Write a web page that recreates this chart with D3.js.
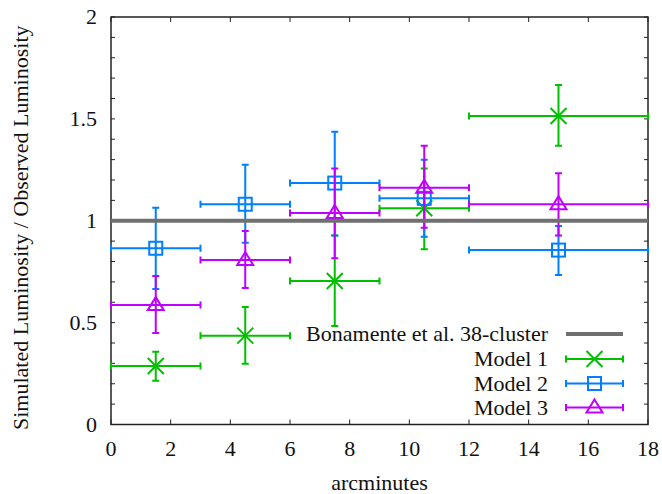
<!DOCTYPE html>
<html>
<head>
<meta charset="utf-8">
<script src="https://cdn.jsdelivr.net/npm/d3@7"></script>
</head>
<body style="margin:0">
<script>
// bins in arcminutes
const xCenter = [1.5, 4.5, 7.5, 10.5, 15];
const xLow = [0, 3, 6, 9, 12];
const xHigh = [3, 6, 9, 12, 18];

const model1 = [0.287, 0.436, 0.704, 1.061, 1.514];
const model1Low = [0.215, 0.298, 0.483, 0.860, 1.368];
const model1High = [0.357, 0.577, 0.927, 1.257, 1.666];

const model2 = [0.865, 1.081, 1.185, 1.110, 0.856];
const model2Low = [0.665, 0.892, 0.927, 0.922, 0.734];
const model2High = [1.064, 1.275, 1.437, 1.300, 0.974];

const model3 = [0.586, 0.807, 1.038, 1.162, 1.081];
const model3Low = [0.449, 0.670, 0.816, 0.966, 0.927];
const model3High = [0.729, 0.950, 1.257, 1.368, 1.233];

const bonamente = 1.0;

const xTicks = [0, 2, 4, 6, 8, 10, 12, 14, 16, 18];
const yTicks = [0, 0.5, 1, 1.5, 2];

const width = 662, height = 494;
const margin = { top: 17, right: 14, bottom: 69.5, left: 111 };

const svg = d3.select('body').append('svg')
  .attr('width', width)
  .attr('height', height);

const x = d3.scaleLinear().domain([0, 18]).range([margin.left, width - margin.right]);
const y = d3.scaleLinear().domain([0, 2]).range([height - margin.bottom, margin.top]);

// every text gets the serif face when it is made
function serif(sel) {
  return sel.attr('font-size', 22).style('font-family', '"Liberation Serif", monospace').style('fill', '#111');
}

const series = [
  { name: 'Model 1', color: '#00c000', marker: 'x', v: model1, lo: model1Low, hi: model1High },
  { name: 'Model 2', color: '#0080ff', marker: 'square', v: model2, lo: model2Low, hi: model2High },
  { name: 'Model 3', color: '#c000ff', marker: 'triangle', v: model3, lo: model3Low, hi: model3High }
];

// ticks on all four sides, labels only bottom/left
const minorY = d3.range(0, 2.0001, 0.1);
const tickG = svg.append('g').attr('stroke', '#222');
tickG.selectAll('.xb').data(xTicks).join('line').attr('class', 'xb')
  .attr('x1', d => x(d)).attr('x2', d => x(d)).attr('y1', y(0)).attr('y2', y(0) - 5);
tickG.selectAll('.xt').data(xTicks).join('line').attr('class', 'xt')
  .attr('x1', d => x(d)).attr('x2', d => x(d)).attr('y1', y(2)).attr('y2', y(2) + 5);
tickG.selectAll('.yl').data(minorY).join('line').attr('class', 'yl')
  .attr('x1', x(0)).attr('x2', x(0) + 4).attr('y1', d => y(d)).attr('y2', d => y(d));
tickG.selectAll('.yr').data(minorY).join('line').attr('class', 'yr')
  .attr('x1', x(18)).attr('x2', x(18) - 4).attr('y1', d => y(d)).attr('y2', d => y(d));

svg.selectAll('.xlab').data(xTicks).join('text').attr('class', 'xlab')
  .attr('x', d => x(d)).attr('y', 456)
  .attr('text-anchor', 'middle')
  .text(d => d)
  .call(serif);
svg.selectAll('.ylab').data(yTicks).join('text').attr('class', 'ylab')
  .attr('x', 97).attr('y', d => y(d) + 7)
  .attr('text-anchor', 'end')
  .text(d => d)
  .call(serif);

svg.append('rect')
  .attr('x', x(0)).attr('y', y(2))
  .attr('width', x(18) - x(0)).attr('height', y(0) - y(2))
  .attr('fill', 'none').attr('stroke', '#222').attr('stroke-width', 1.5);

function drawMarker(g, type, cx, cy, color) {
  if (type === 'x') {
    const s = 8;
    g.append('path')
      .attr('d', `M${cx - s},${cy - s}L${cx + s},${cy + s}M${cx - s},${cy + s}L${cx + s},${cy - s}`)
      .attr('stroke', color).attr('stroke-width', 2).attr('fill', 'none');
  } else if (type === 'square') {
    const s = 6.5;
    g.append('rect')
      .attr('x', cx - s).attr('y', cy - s).attr('width', 2 * s).attr('height', 2 * s)
      .attr('stroke', color).attr('stroke-width', 2).attr('fill', 'none');
  } else {
    const s = 8;
    g.append('path')
      .attr('d', `M${cx},${cy - s}L${cx + s},${cy + 5}L${cx - s},${cy + 5}Z`)
      .attr('stroke', color).attr('stroke-width', 2).attr('fill', 'none');
  }
}

const cap = 3.5;
series.forEach(s => {
  const g = svg.append('g').attr('stroke', s.color).attr('stroke-width', 2).attr('fill', 'none');
  xCenter.forEach((xc, i) => {
    const cx = x(xc), cy = y(s.v[i]);
    const x0 = x(xLow[i]), x1 = x(xHigh[i]);
    const y0 = y(s.lo[i]), y1 = y(s.hi[i]);
    g.append('path').attr('d',
      `M${x0},${cy}H${x1}` +
      `M${x0},${cy - cap}V${cy + cap}M${x1},${cy - cap}V${cy + cap}` +
      `M${cx},${y0}V${y1}` +
      `M${cx - cap},${y0}H${cx + cap}M${cx - cap},${y1}H${cx + cap}`);
    drawMarker(g, s.marker, cx, cy, s.color);
  });
});

// reference line
svg.append('line')
  .attr('x1', x(0)).attr('x2', x(18))
  .attr('y1', y(bonamente)).attr('y2', y(bonamente))
  .attr('stroke', '#707070').attr('stroke-width', 4);

// legend
const legX0 = 566, legX1 = 623, legText = 548;
const legRows = [334, 359, 383.5, 407.5];
const legNames = ['Bonamente et al. 38-cluster'].concat(series.map(s => s.name));
svg.selectAll('.legtext').data(legNames).join('text').attr('class', 'legtext')
  .attr('x', legText).attr('y', (d, i) => legRows[i] + 7)
  .attr('text-anchor', 'end')
  .text(d => d)
  .call(serif);
svg.append('line').attr('x1', legX0).attr('x2', legX1).attr('y1', legRows[0]).attr('y2', legRows[0])
  .attr('stroke', '#707070').attr('stroke-width', 4);
series.forEach((s, i) => {
  const ry = legRows[i + 1];
  const g = svg.append('g').attr('stroke', s.color).attr('stroke-width', 2).attr('fill', 'none');
  g.append('path').attr('d', `M${legX0},${ry}H${legX1}M${legX0},${ry - cap}V${ry + cap}M${legX1},${ry - cap}V${ry + cap}`);
  drawMarker(g, s.marker, (legX0 + legX1) / 2, ry, s.color);
});

// axis titles
svg.append('text')
  .attr('x', (x(0) + x(18)) / 2).attr('y', 490)
  .attr('text-anchor', 'middle')
  .text('arcminutes')
  .call(serif);
svg.append('text')
  .attr('transform', `translate(28,${y(1) + 7}) rotate(-90)`)
  .attr('text-anchor', 'middle')
  .text('Simulated Luminosity / Observed Luminosity')
  .call(serif);
</script>
</body>
</html>
